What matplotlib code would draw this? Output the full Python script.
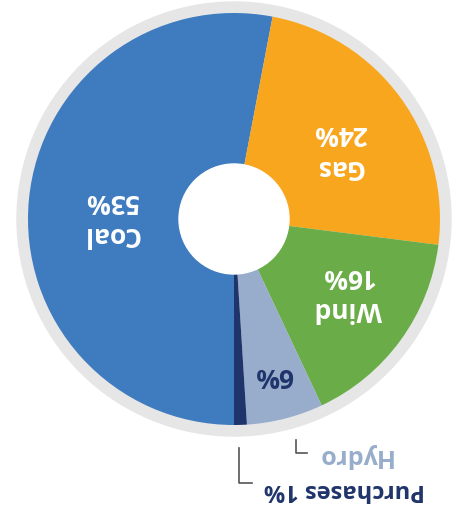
import numpy as np
import matplotlib
matplotlib.use("Agg")
import matplotlib.pyplot as plt
from matplotlib.patches import Circle

categories = ["Coal", "Gas", "Wind", "Hydro", "Purchases"]
values = [53, 24, 16, 6, 1]
pct_labels = ["53%", "24%", "16%", "6%", "1%"]
colors = ["#3e7bbf", "#f9a61f", "#6aad48", "#97adcb", "#1f346a"]

W, H = 460, 509
fig = plt.figure(figsize=(W / 100, H / 100), dpi=100)
ax = fig.add_axes([0, 0, 1, 1])

cx, cy = 234, H - 219
R = 206
R_hole = 55
R_ring = 217

ax.add_patch(Circle((cx, cy), R_ring, color="#e6e6e6", zorder=0))
wedges, _ = ax.pie(values, colors=colors, startangle=-90, counterclock=False,
                   radius=R, center=(cx, cy),
                   wedgeprops=dict(linewidth=0))
for w in wedges:
    w.set_zorder(1)
ax.add_patch(Circle((cx, cy), R_hole, color="white", zorder=2))

ax.set_xlim(0, W)
ax.set_ylim(0, H)
ax.set_aspect("equal")
ax.axis("off")

font = "Open Sans"
weight = "bold"
# inside labels (whole graphic rotated 180 degrees)
label_r = [123, 126, 136, 162]
angle_tweak = [5, -3, 3, 0]
for i in range(4):
    w = wedges[i]
    mid = np.deg2rad((w.theta1 + w.theta2) / 2 + angle_tweak[i])
    x = cx + label_r[i] * np.cos(mid)
    y = cy + label_r[i] * np.sin(mid)
    if i < 3:
        txt = f"{categories[i]}\n{pct_labels[i]}"
        col = "white"
    else:
        txt = pct_labels[i]
        col = "#1f346a"
    ax.text(x, y, txt, rotation=180, ha="center", va="center", color=col,
            fontsize=19, fontweight=weight, family=font, linespacing=1.3,
            rotation_mode="anchor", zorder=3)

# outside labels with leader lines
ax.text(354, H - 456, categories[3], rotation=180, ha="center", va="center",
        color="#97adcb", fontsize=18, fontweight=weight, family=font,
        rotation_mode="anchor")
ax.plot([296, 296, 307], [H - 440, H - 453, H - 453], color="#555555", lw=1.2)

ax.text(344, H - 490, f"{categories[4]} {pct_labels[4]}", rotation=180,
        ha="center", va="center", color="#1f346a", fontsize=17,
        fontweight=weight, family=font, rotation_mode="anchor")
ax.plot([239, 239, 252], [H - 448, H - 483, H - 483], color="#555555", lw=1.2)

fig.savefig("out.png", dpi=100)
